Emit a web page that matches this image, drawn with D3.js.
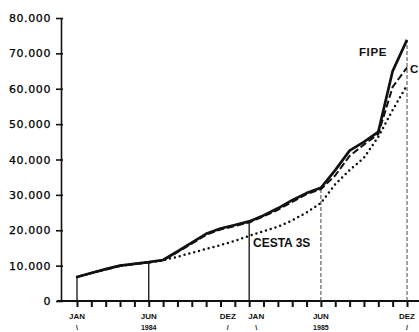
<!DOCTYPE html>
<html>
<head>
<meta charset="utf-8">
<script src="https://cdn.jsdelivr.net/npm/d3@7"></script>
<style>
  html, body { margin: 0; padding: 0; background: #fff; }
  svg { display: block; overflow: hidden; }
</style>
</head>
<body>
<svg id="chart" width="419" height="332"></svg>
<script>
// Monthly index, Jan 1984 .. Dec 1985
const months = ["JAN","FEV","MAR","ABR","MAI","JUN","JUL","AGO","SET","OUT","NOV","DEZ",
                "JAN","FEV","MAR","ABR","MAI","JUN","JUL","AGO","SET","OUT","NOV","DEZ"];
const fipe  = [6800, 7900, 9000, 10000, 10500, 11000, 11600, 14000, 16500, 19000, 20500, 21500,
               22500, 24200, 26200, 28500, 30500, 32000, 37000, 42500, 45000, 47800, 65000, 73800];
const custo = [6800, 7900, 8900, 9900, 10400, 10900, 11500, 13800, 16200, 18700, 20200, 21200,
               22200, 23900, 25800, 28000, 30200, 31600, 35500, 41000, 44200, 47200, 60500, 66000];
const cesta = [6800, 7900, 9000, 10000, 10500, 11000, 11500, 12500, 13600, 14700, 15800, 17000,
               18400, 19700, 21000, 22800, 25000, 27700, 33000, 37000, 40500, 46400, 54000, 61000];
const yTicks = [0, 10000, 20000, 30000, 40000, 50000, 60000, 70000, 80000];
// labelled months: index, top label, bottom label, horizontal nudge
const monthMarks = [
  {i: 0,  top: "JAN", bottom: "\\",   dx: 0},
  {i: 5,  top: "JUN", bottom: "1984", dx: 0},
  {i: 11, top: "DEZ", bottom: "/",    dx: -7},
  {i: 12, top: "JAN", bottom: "\\",   dx: 7},
  {i: 17, top: "JUN", bottom: "1985", dx: 0},
  {i: 23, top: "DEZ", bottom: "/",    dx: 0}
];
const guideMonths = [0, 5, 12, 17, 23];

const svg = d3.select("#chart");
const W = 419, H = 332;
const axisX = 61, baseY = 301;

const x = d3.scaleLinear().domain([0, 23]).range([77, 407]);
const y = d3.scaleLinear().domain([0, 80000]).range([baseY, 18]);

const fmt = v => d3.format(",")(v).replace(/,/g, ".");

// y axis
const yAxis = d3.axisLeft(y).tickValues(yTicks).tickFormat(fmt).tickSizeInner(5).tickSizeOuter(0).tickPadding(3);
const gy = svg.append("g").attr("transform", `translate(${axisX},0)`).call(yAxis);
gy.select(".domain").attr("stroke", "#111").attr("stroke-width", 1.6);
gy.selectAll(".tick line").attr("stroke", "#111").attr("stroke-width", 1.6).attr("x2", 2).attr("x1", -5);
gy.selectAll(".tick text")
  .attr("font-family", "'DejaVu Sans', sans-serif")
  .attr("font-size", 11).attr("letter-spacing", "0.6px")
  .attr("fill", "#000").attr("stroke", "#000").attr("stroke-width", 0.25).attr("dx", -2);

// x axis: month ticks below baseline
const xAxis = d3.axisBottom(x).tickValues(d3.range(months.length)).tickFormat("").tickSizeInner(6).tickSizeOuter(0);
const gx = svg.append("g").attr("transform", `translate(0,${baseY})`).call(xAxis);
gx.select(".domain").remove();
gx.selectAll(".tick line").attr("stroke", "#111").attr("stroke-width", 2);
svg.append("line")
  .attr("x1", axisX - 4).attr("x2", W).attr("y1", baseY).attr("y2", baseY)
  .attr("stroke", "#111").attr("stroke-width", 2);

// month labels
const ml = svg.append("g").attr("font-family", "'Liberation Sans', Arial, sans-serif")
  .attr("font-weight", "bold").attr("fill", "#111").attr("text-anchor", "middle");
ml.selectAll("text.top").data(monthMarks).join("text").attr("class", "top")
  .attr("x", d => x(d.i) + d.dx).attr("y", 319).attr("font-size", 8).text(d => d.top);
ml.selectAll("text.bottom").data(monthMarks).join("text").attr("class", "bottom")
  .attr("x", d => x(d.i) + d.dx).attr("y", 329.5).attr("font-size", 7).text(d => d.bottom);

// vertical guide lines from axis to the curve
svg.append("g").selectAll("line").data(guideMonths).join("line")
  .attr("x1", d => x(d)).attr("x2", d => x(d))
  .attr("y1", baseY).attr("y2", d => y(Math.max(fipe[d], custo[d], cesta[d])))
  .attr("stroke", d => d >= 17 ? "#444" : "#111")
  .attr("stroke-width", d => d >= 17 ? 1 : 1.3)
  .attr("stroke-dasharray", d => d >= 17 ? "4,2" : null);

const line = d3.line().x((d, i) => x(i)).y(d => y(d));

// CESTA 3S: dotted
svg.append("path").datum(cesta).attr("d", line)
  .attr("fill", "none").attr("stroke", "#111").attr("stroke-width", 2.5)
  .attr("stroke-linecap", "round").attr("stroke-dasharray", "0,5");

// second index: dashed
svg.append("path").datum(custo).attr("d", line)
  .attr("fill", "none").attr("stroke", "#111").attr("stroke-width", 2)
  .attr("stroke-dasharray", "7,3");

// FIPE: solid
svg.append("path").datum(fipe).attr("d", line)
  .attr("fill", "none").attr("stroke", "#111").attr("stroke-width", 2.7)
  .attr("stroke-linejoin", "round");

// series labels
const lab = svg.append("g").attr("font-family", "'Liberation Sans', Arial, sans-serif")
  .attr("font-weight", "bold").attr("fill", "#111");
lab.append("text").attr("x", 359).attr("y", 56).attr("font-size", 11.5).attr("letter-spacing", "0.6px").text("FIPE");
lab.append("text").attr("x", 410).attr("y", 73).attr("font-size", 11.5).text("C");
lab.append("text").attr("x", 253).attr("y", 247).attr("font-size", 12).text("CESTA 3S");
</script>
</body>
</html>
